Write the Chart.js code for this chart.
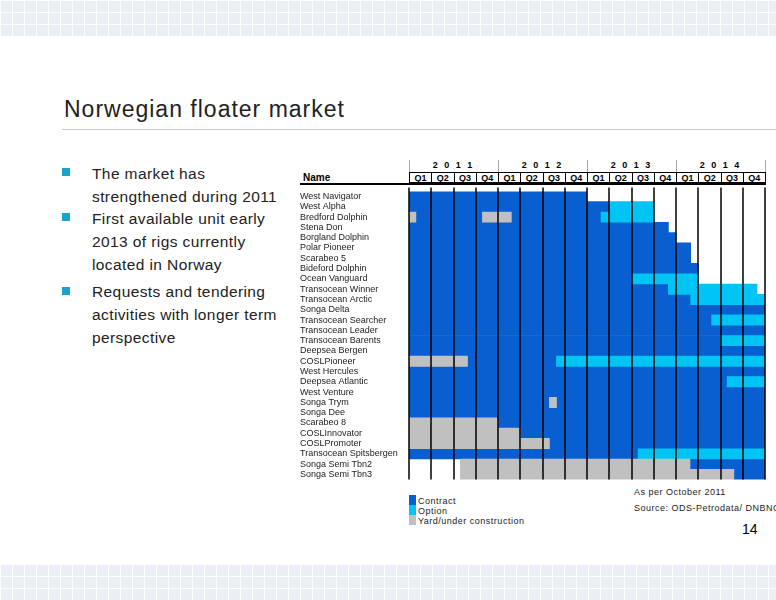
<!DOCTYPE html>
<html><head><meta charset="utf-8">
<script src="https://cdn.jsdelivr.net/npm/chart.js@4"></script>
<style>
body{margin:0;width:776px;height:600px;position:relative;font-family:"Liberation Sans",Arial,sans-serif;overflow:hidden;
background-color:#e9eff5;background-image:linear-gradient(#fff 1px,transparent 1px),linear-gradient(90deg,#fff 1px,transparent 1px);background-size:12px 12px;}
#main{position:absolute;left:0;top:36px;width:776px;height:528px;background:#fff;}
.abs{position:absolute;}
#title{left:64px;top:96px;font-size:23px;letter-spacing:1px;color:#222;}
#rule{left:62px;top:129px;width:714px;height:1px;background:#ccc;}
.bul{left:92px;font-size:15.5px;line-height:23px;color:#222;letter-spacing:0.4px;width:200px;}
.sq{width:8px;height:8px;background:#1aa3c9;left:62px;}
.hdr{font-size:9px;font-weight:bold;text-align:center;}
.q{position:absolute;top:172px;height:11px;border:1px solid #000;font-size:9px;font-weight:bold;text-align:center;line-height:11px;box-sizing:border-box;}
.leg{font-size:9px;color:#222;letter-spacing:0.5px;white-space:nowrap}
</style></head><body>
<div id="main"></div>
<div class="abs" id="title">Norwegian floater market</div>
<div class="abs" id="rule"></div>
<div class="abs sq" style="top:168px"></div>
<div class="abs bul" style="top:162px">The market has strengthened during 2011</div>
<div class="abs sq" style="top:213px"></div>
<div class="abs bul" style="top:207px">First available unit early 2013 of rigs currently located in Norway</div>
<div class="abs sq" style="top:287px"></div>
<div class="abs bul" style="top:280px">Requests and tendering activities with longer term perspective</div>
<div id="hdr"></div>
<div class="abs" style="left:303px;top:172px;font-size:10px;font-weight:bold">Name</div>
<div class="abs" style="left:300px;top:183px;width:466px;height:2px;background:#000"></div>
<div class="abs" style="left:300px;top:186px;width:470px;height:299px"><canvas id="c"></canvas></div>
<div class="abs" style="left:409px;top:495px;width:7px;height:10px;background:#0a5fd0"></div>
<div class="abs" style="left:409px;top:505px;width:7px;height:10px;background:#00c4f4"></div>
<div class="abs" style="left:409px;top:515px;width:7px;height:10px;background:#c0c0c0"></div>
<div class="abs leg" style="left:418px;top:496px">Contract</div>
<div class="abs leg" style="left:418px;top:506px">Option</div>
<div class="abs leg" style="left:418px;top:516px">Yard/under construction</div>
<div class="abs leg" style="left:634px;top:487px">As per October 2011</div>
<div class="abs leg" style="left:634px;top:503px">Source: ODS-Petrodata/ DNBNOR</div>
<div class="abs" style="left:742px;top:521px;font-size:14px">14</div>
<script>
const years=["2011","2012","2013","2014"];
const quarters=["Q1","Q2","Q3","Q4"];
const rigs=["West Navigator","West Alpha","Bredford Dolphin","Stena Don","Borgland Dolphin","Polar Pioneer","Scarabeo 5","Bideford Dolphin","Ocean Vanguard","Transocean Winner","Transocean Arctic","Songa Delta","Transocean Searcher","Transocean Leader","Transocean Barents","Deepsea Bergen","COSLPioneer","West Hercules","Deepsea Atlantic","West Venture","Songa Trym","Songa Dee","Scarabeo 8","COSLInnovator","COSLPromoter","Transocean Spitsbergen","Songa Semi Tbn2","Songa Semi Tbn3"];
const contract=[[0,8],[0,9],[0,8.63],[0,11.66],[0,12],[0,12.66],[0,12.66],[0,13],[0,10],[0,11.66],[0,12.66],[0,16],[0,16],[0,16],[0,16],[0,16],[2.63,6.63],[0,16],[0,16],[0,16],[0,16],[0,16],[4,16],[5,16],[6.31,16],[0,10.3],[12.63,16],[14.6,16]];
const option=[null,[9,11],[8.63,11],null,null,null,null,null,[10,13],[11.66,15.64],[12.66,16],null,[13.6,16],null,[14,16],null,[6.63,16],null,[14.3,16],null,null,null,null,null,null,[10.3,16],null,null];
const yard=[null,null,[0,0.31],null,null,null,null,null,null,null,null,null,null,null,null,null,[0,2.63],null,null,null,[6.31,6.63],null,[0,4],[0,5],[0,6.31],null,[2.31,12.63],[2.31,14.6]];
const yard2=[null,null,[3.3,4.6],null,null,null,null,null,null,null,null,null,null,null,null,null,null,null,null,null,null,null,null,null,null,null,null,null];

const x0=409,qw=(765-409)/16;let h='';
years.forEach((y,i)=>{h+=`<div class="abs hdr" style="left:${x0+i*4*qw}px;top:160px;width:${4*qw}px;letter-spacing:2px">${y.split('').join(' ')}</div>`;
 h+=`<div class="abs" style="left:${x0+i*4*qw}px;top:160px;width:1px;height:12px;background:#aaa"></div>`;
 quarters.forEach((q,j)=>{h+=`<div class="q" style="left:${x0+(i*4+j)*qw}px;width:${qw+1}px">${q}</div>`;});});
h+=`<div class="abs" style="left:${x0+16*qw}px;top:160px;width:1px;height:12px;background:#aaa"></div>`;
document.getElementById('hdr').innerHTML=h;

const mk=(label,data,color,order)=>({label,data,backgroundColor:color,order,grouped:false,barPercentage:1,categoryPercentage:1});
const lines={id:'lines',afterDatasetsDraw(ch){const{ctx,chartArea:a,scales:{x}}=ch;ctx.save();ctx.strokeStyle='#000';ctx.lineWidth=1.5;
 for(let i=0;i<=16;i++){const px=Math.round(x.getPixelForValue(i));ctx.beginPath();ctx.moveTo(px,a.top-4);ctx.lineTo(px,a.bottom);ctx.stroke();}ctx.restore();}};
new Chart(document.getElementById('c'),{type:'bar',
 data:{labels:rigs,datasets:[mk('Contract',contract,'#0a5fd0',4),mk('Option',option,'#00c4f4',3),mk('Yard/under construction',yard,'#c0c0c0',2),mk('Yard 2',yard2,'#c0c0c0',1)]},
 options:{indexAxis:'y',responsive:true,maintainAspectRatio:false,animation:false,
  layout:{padding:{top:5,right:5,bottom:0,left:0}},
  plugins:{legend:{display:false},tooltip:{enabled:false}},
  scales:{x:{min:0,max:16,display:true,ticks:{display:false,stepSize:1},grid:{display:false,drawTicks:false},border:{display:false}},
   y:{afterFit(s){s.width=109;},ticks:{crossAlign:'far',color:'#222',font:{size:9,family:'Liberation Sans'},padding:0,autoSkip:false},grid:{display:false},border:{display:false}}}},
 plugins:[lines]});
</script></body></html>
